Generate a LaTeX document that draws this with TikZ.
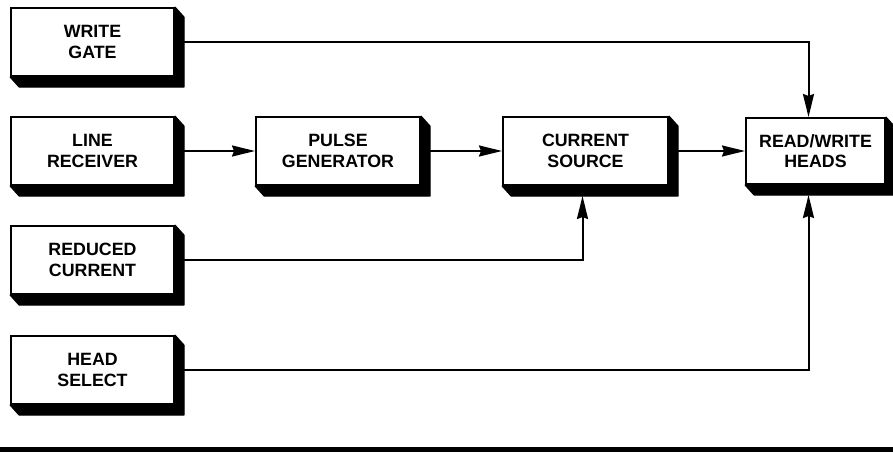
\documentclass[tikz,border=0pt]{standalone}
\usepackage{fontspec}
\setmainfont{Liberation Sans}
\usetikzlibrary{arrows.meta,calc}
\begin{document}
\begin{tikzpicture}[x=1pt,y=-1pt,
  blk/.style={draw, line width=2pt, fill=white, align=center, inner sep=0pt,
    font=\fontsize{17.8}{20.5}\selectfont\bfseries, minimum height=68pt},
  conn/.style={line width=2pt},
  arr/.style={conn, -{Stealth[length=23pt,width=11pt,inset=2pt]}},
  shadowfill/.style={fill=black, draw=black, line width=1pt, line join=round}
]
\useasboundingbox (0,0) rectangle (893,452);
% boxes
\node[blk, minimum width=163pt] (wg) at (92.5,42)  {WRITE\\GATE};
\node[blk, minimum width=163pt] (lr) at (92.5,151) {LINE\\RECEIVER};
\node[blk, minimum width=163pt] (rc) at (92.5,260) {REDUCED\\CURRENT};
\node[blk, minimum width=163pt] (hs) at (92.5,370) {HEAD\\SELECT};
\node[blk, minimum width=164pt] (pg) at (338,151)  {PULSE\\GENERATOR};
\node[blk, minimum width=165pt] (cs) at (585.5,151) {CURRENT\\SOURCE};
\node[blk, minimum width=139pt, minimum height=66pt] (rw) at (815.5,151) {READ/WRITE\\HEADS};
% connectors
\draw[arr] (wg.east) -| ([shift={(-7,0)}]rw.north);
\draw[arr] (lr.east) -- (pg.west);
\draw[arr] (pg.east) -- (cs.west);
\draw[arr] (rc.east) -| ([shift={(-3,10)}]cs.south);
\draw[arr] (cs.east) -- (rw.west);
\draw[arr] (hs.east) -| ([shift={(-7,10)}]rw.south);
% 3D shadows
\foreach \n in {wg,lr,rc,hs,pg,cs,rw}{
  \filldraw[shadowfill] (\n.north east) -- ([shift={(9,10)}]\n.north east)
    -- ([shift={(9,10)}]\n.south east) -- ([shift={(9,10)}]\n.south west)
    -- (\n.south west) -- (\n.south east) -- cycle;
}
% bottom rule
\fill (0,447) rectangle (893,452);
\end{tikzpicture}
\end{document}
